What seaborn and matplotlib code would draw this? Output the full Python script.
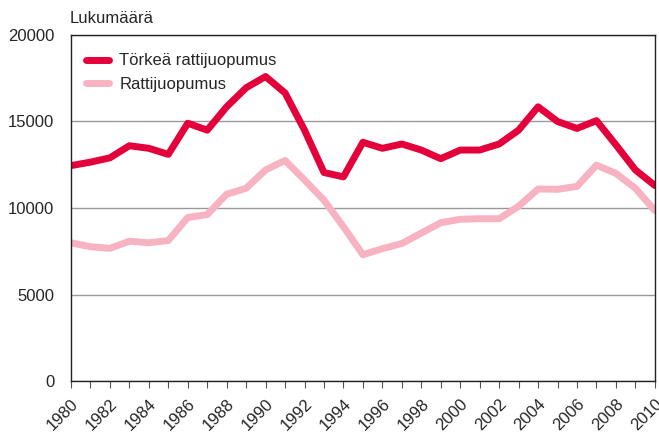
import matplotlib
matplotlib.use("Agg")
import matplotlib.pyplot as plt
import seaborn as sns
import pandas as pd

years = list(range(1980, 2011))
torkea = [12450, 12650, 12900, 13600, 13450, 13100, 14900, 14500, 15850, 16950,
          17600, 16650, 14500, 12050, 11800, 13800, 13450, 13700, 13350, 12850,
          13350, 13350, 13700, 14500, 15850, 15000, 14600, 15050, 13650, 12200,
          11300]
ratti = [7990, 7760, 7670, 8080, 7990, 8120, 9450, 9620, 10800, 11140,
         12200, 12750, 11620, 10450, 8920, 7300, 7650, 7950, 8550, 9150,
         9350, 9380, 9380, 10100, 11100, 11080, 11250, 12480, 12000, 11140,
         9850]
series_names = ["Törkeä rattijuopumus", "Rattijuopumus"]
colors = ["#E4003A", "#F7B3C2"]

df = pd.DataFrame({"Vuosi": years * 2,
                   "Lukumäärä": torkea + ratti,
                   "Sarja": [series_names[0]] * len(years) + [series_names[1]] * len(years)})

sns.set_style("white")
plt.rcParams["font.family"] = ["Liberation Sans", "DejaVu Sans"]

fig = plt.figure(figsize=(6.59, 4.32), dpi=100)
ax = fig.add_axes([0.1077, 0.118, 0.886, 0.801])

sns.lineplot(data=df, x="Vuosi", y="Lukumäärä", hue="Sarja",
             palette=colors, linewidth=5, ax=ax, legend=True)

ax.set_xlim(1980, 2010)
ax.set_ylim(0, 20000)
ax.set_yticks([0, 5000, 10000, 15000, 20000])
ax.set_yticklabels(["0", "5000", "10000", "15000", "20000"], fontsize=12)
ax.set_xticks(years[::2])
ax.set_xticks(years, minor=True)
ax.set_xticklabels([str(y) for y in years[::2]], rotation=45, ha="right",
                   rotation_mode="anchor", fontsize=12)
ax.tick_params(axis="x", which="both", direction="out", length=5, width=0.8,
               color="#555555", bottom=True, pad=6)
ax.tick_params(axis="y", length=0, pad=12)
ax.set_xlabel("")
ax.set_ylabel("")
ax.grid(axis="y", color="#999999", linewidth=1)
for s in ax.spines.values():
    s.set_color("#222222")
    s.set_linewidth(1)

fig.text(0.106, 0.94, "Lukumäärä", fontsize=12, ha="left", va="bottom")

leg = ax.legend(loc="upper left", frameon=False, fontsize=12, handlelength=1.4,
                handletextpad=0.6, bbox_to_anchor=(0.0, 0.99), labelspacing=0.5)

fig.savefig("out.png", dpi=100)
